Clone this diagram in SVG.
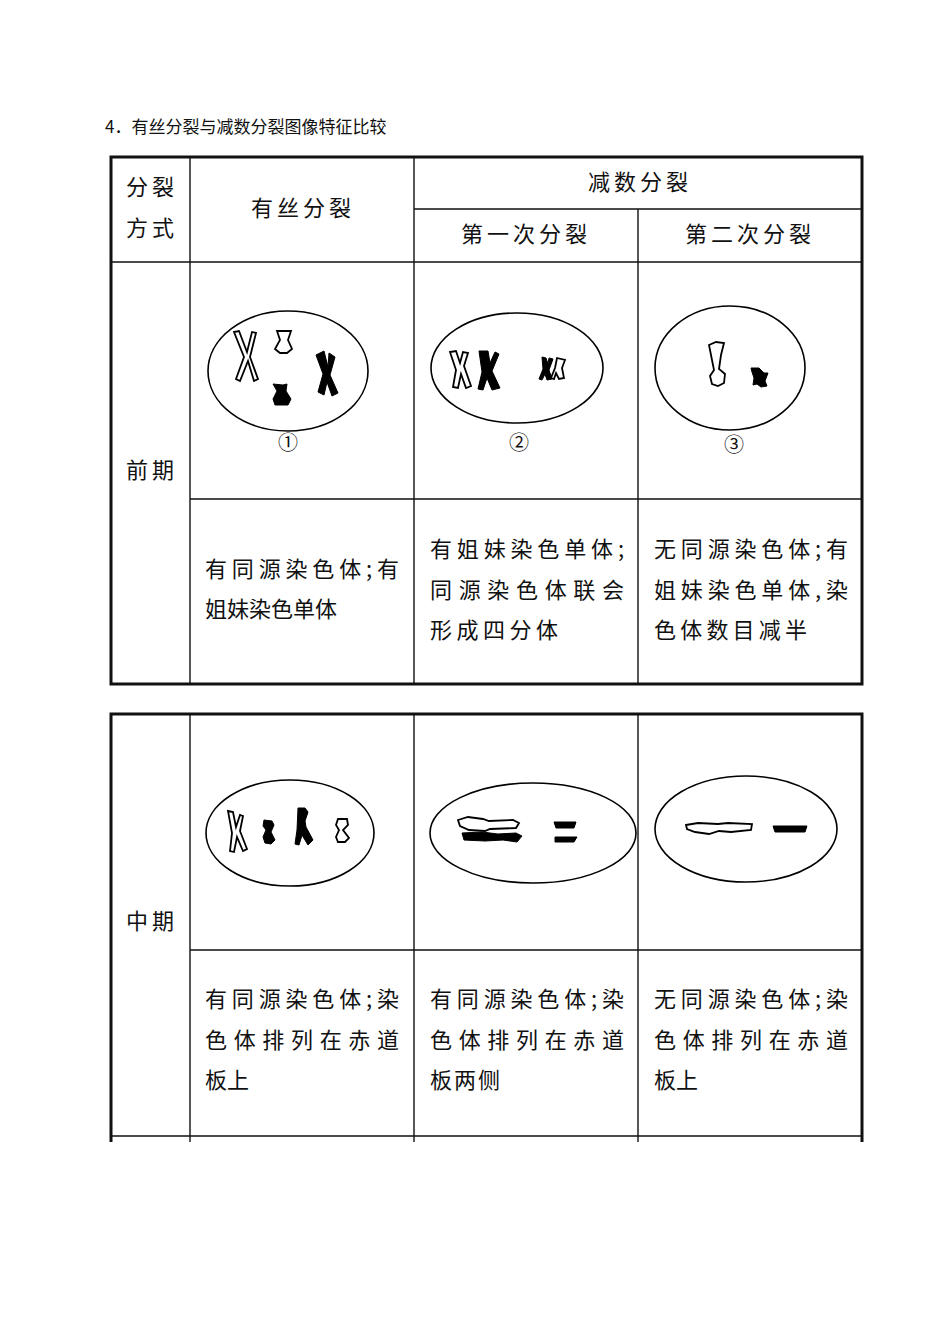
<svg xmlns="http://www.w3.org/2000/svg" width="950" height="1342" viewBox="0 0 950 1342">
<style>
.t{font-family:"Noto Sans CJK SC","Liberation Serif",serif;font-size:22px;fill:#111}
.s{letter-spacing:4px}
.h{font-family:"Noto Sans CJK SC",serif;font-size:17px;fill:#111}
.g{stroke:#111;stroke-width:1.4;fill:none}
.o{stroke:#111;stroke-width:3;fill:none}
.c{fill:#fff;stroke:#000;stroke-width:1.8}
.b{fill:#000;stroke:#000;stroke-width:1}
.e{fill:none;stroke:#000;stroke-width:1.6}
</style>
<rect width="950" height="1342" fill="#fff"/>
<text class="h" x="105" y="133">4．有丝分裂与减数分裂图像特征比较</text>
<g id="table1">
<rect class="o" x="111" y="157" width="751" height="527"/>
<path class="g" d="M190 157V684M414 157V684M638 209V684M414 209H862M111 262H862M190 499H862"/>
<text class="t s" x="126" y="195">分裂</text><text class="t s" x="126" y="236">方式</text>
<text class="t s" x="251" y="216">有丝分裂</text>
<text class="t s" x="588" y="190">减数分裂</text>
<text class="t s" x="461" y="242">第一次分裂</text>
<text class="t s" x="685" y="242">第二次分裂</text>
<text class="t s" x="126" y="478">前期</text>
<text class="t" x="205" y="577" textLength="194">有同源染色体;有</text>
<text class="t" x="205" y="617" textLength="132">姐妹染色单体</text>
<text class="t" x="430" y="557" textLength="194">有姐妹染色单体;</text>
<text class="t" x="430" y="598" textLength="194">同源染色体联会</text>
<text class="t" x="430" y="638" textLength="128">形成四分体</text>
<text class="t" x="654" y="557" textLength="194">无同源染色体;有</text>
<text class="t" x="654" y="598" textLength="194">姐妹染色单体,染</text>
<text class="t" x="654" y="638" textLength="153">色体数目减半</text>
</g>
<g id="cell1">
<ellipse class="e" cx="288" cy="371" rx="80" ry="60"/>
<path class="c" d="M234 332l10 25 -8 22 4 2 8-20 6 20 4-2-8-22 6-24-4-1-5 20-8-21z"/>
<path class="c" d="M277 331h14l-3 9 4 9-5 4h-7l-5-4 5-9z"/>
<path class="b" d="M316 355l8-4 4 16 1-14 6 4-5 18 8 18-6 3-5-14-3 13-6-3 5-18z"/>
<path class="b" d="M273 384l10 1 4-1-1 7 5 8-3 6h-13l-2-6 4-8z"/>
<text class="t" x="278" y="450" style="font-size:20px">①</text>
</g>
<g id="cell2">
<ellipse class="e" cx="517" cy="368" rx="86" ry="55"/>
<path class="c" d="M450 352l6-1 4 12 3-11 5 1-4 13 7 20-5 2-5-14-3 14-5-1 3-17z"/>
<path class="b" d="M479 351h9l2 12 5-11 4 2-7 17 8 17-8 2-5-12-4 12-5-1 4-17z"/>
<path class="b" d="M542 357l4 1 2 6 1-6 4 1-4 11 3 9-5 1-2-6-3 6-3-1 4-10z"/>
<path class="c" d="M557 358l8 2-3 8 2 10-5 1-3-6-2 6-3-1 4-10z"/>
<text class="t" x="509" y="450" style="font-size:20px">②</text>
</g>
<g id="cell3">
<ellipse class="e" cx="730" cy="368" rx="75" ry="62"/>
<path class="c" d="M709 345l7-3 8 1-3 12-2 14 6 5-1 9-6 3-6-2-2-8 4-6-2-10z"/>
<path class="b" d="M751 368h8l5 5h4l-3 8 2 5-6 1-4-3-4 1 1-7-2-6z"/>
<text class="t" x="724" y="452" style="font-size:20px">③</text>
</g>
<g id="table2">
<path class="o" d="M111 1142V714H862V1142"/>
<path class="g" d="M190 714V1142M414 714V1142M638 714V1142M190 950H862M111 1136H862"/>
<text class="t s" x="126" y="929">中期</text>
<text class="t" x="205" y="1007" textLength="194">有同源染色体;染</text>
<text class="t" x="205" y="1048" textLength="194">色体排列在赤道</text>
<text class="t" x="205" y="1088">板上</text>
<text class="t" x="430" y="1007" textLength="194">有同源染色体;染</text>
<text class="t" x="430" y="1048" textLength="194">色体排列在赤道</text>
<text class="t" x="430" y="1088" textLength="70">板两侧</text>
<text class="t" x="654" y="1007" textLength="194">无同源染色体;染</text>
<text class="t" x="654" y="1048" textLength="194">色体排列在赤道</text>
<text class="t" x="654" y="1088">板上</text>
</g>
<g id="cell4">
<ellipse class="e" cx="290" cy="833" rx="84" ry="53"/>
<path class="c" d="M228 811l5 1 3 15 4-12 3 1-3 15 7 18-4 2-6-14-3 15-4-1 2-18z"/>
<path class="b" d="M264 820l8 1 2 4-3 7 4 8-4 4-6-1-2-6 3-7-3-4z"/>
<path class="b" d="M298 808h7l3 4-3 9 1 6 7 13-5 5-6-10-3 10-4-1 2-14z"/>
<path class="c" d="M338 819h9l1 6-5 5 6 8-4 4h-7l-2-5 3-7-3-5z"/>
</g>
<g id="cell5">
<ellipse class="e" cx="533" cy="833" rx="103" ry="50"/>
<path class="c" d="M458 820l10-3 15 2 6 2 24-1 6 3-3 5-26 1-5 2-16-1-9-4z"/>
<path class="b" d="M462 833l20-1 16 2 18-1 6 3-5 6-14-2-18 1-21-1z"/>
<path class="b" d="M554 822h22l-2 6h-18zM555 837h22l-3 5h-19z"/>
</g>
<g id="cell6">
<ellipse class="e" cx="746" cy="829" rx="91" ry="53"/>
<path class="c" d="M686 825l12-2 20 1 10-1 24 1-1 6-20 2-12-1-10 3-14-2-8-3z"/>
<path class="b" d="M773 826h34l-2 6h-30z"/>
</g>
</svg>
